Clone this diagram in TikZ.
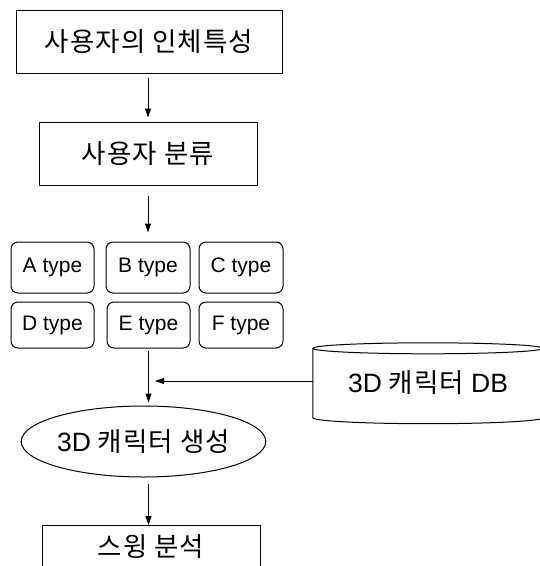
\documentclass[tikz,border=0pt]{standalone}
\usepackage{fontspec}
\setmainfont{Noto Sans CJK KR}[LetterSpace=4]
\newfontfamily\lat{Liberation Sans}
\usetikzlibrary{shapes.geometric,arrows.meta}
\begin{document}
\begin{tikzpicture}[x=1pt,y=-1pt,
  kor/.style={font=\fontsize{26.5}{30}\selectfont},
  box/.style={draw, line width=1pt, inner sep=0pt, kor},
  typebox/.style={draw, rounded corners=7pt, line width=1pt, inner sep=0pt, font=\lat\fontsize{21}{24}\selectfont},
  arr/.style={-{Triangle[length=9pt,width=6pt]}, line width=1pt}]
\useasboundingbox (0,0) rectangle (540,566);
\node[box, minimum width=266pt, minimum height=63pt] (b1) at (149,41.5) {사용자의 인체특성};
\node[box, minimum width=218pt, minimum height=63pt] (b2) at (148,153.5) {사용자 분류};
\node[typebox, minimum width=83pt, minimum height=51pt] (A) at (52.5,267.5) {A type};
\node[typebox, minimum width=84pt, minimum height=51pt] (B) at (148,267.5) {B type};
\node[typebox, minimum width=84pt, minimum height=51pt] (C) at (241,267.5) {C type};
\node[typebox, minimum width=83pt, minimum height=46pt] (D) at (52.5,325) {D type};
\node[typebox, minimum width=83pt, minimum height=46pt] (E) at (148.5,325) {E type};
\node[typebox, minimum width=84pt, minimum height=46pt] (F) at (241,325) {F type};
\node[draw, ellipse, line width=1pt, inner sep=0pt, minimum width=229pt, minimum height=71pt, kor] (gen) at (143.5,441.5) {{\lat 3D} 캐릭터 생성};
\node[inner sep=0pt, minimum width=230pt, minimum height=69pt, kor] (db) at (428,383) {{\lat 3D} 캐릭터 {\lat DB}};
\draw[line width=1pt] (db.north west) -- (db.south west) arc[start angle=180, end angle=360, x radius=115pt, y radius=6pt] -- (db.north east);
\draw[line width=1pt] (db.north) ellipse [x radius=115pt, y radius=5.5pt];
\node[box, anchor=north, minimum width=218pt, text height=31pt, text depth=50pt] (b5) at (151,525) {스윙 분석};
\coordinate (j) at (155,381);
\draw[arr, shorten <=4pt, shorten >=4pt] (b1.south -| b2.south) -- (b2.north);
\draw[arr, shorten <=10pt, shorten >=9pt] (b2.south) -- (B.north);
\draw[arr, shorten <=2pt, shorten >=3pt] (E.south) -- (E.south |- gen.north);
\draw[arr] (db.west |- j) -- (j);
\draw[arr, shorten <=6pt] (gen.south -| E.south) -- (b5.north -| E.south);
\end{tikzpicture}
\end{document}
